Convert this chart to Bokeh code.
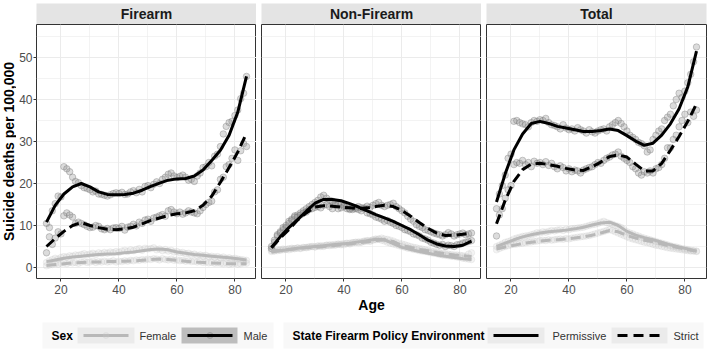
import math
from bokeh.plotting import figure
from bokeh.layouts import row, column
from bokeh.models import Range1d, FixedTicker
from bokeh.core.properties import value
from bokeh.embed import file_html
from bokeh.resources import INLINE

FONT = "Liberation Sans"

# ---------------- data ----------------
panels = ["Firearm", "Non-Firearm", "Total"]
y_title = "Suicide deaths per 100,000"
x_title = "Age"
ages = list(range(15, 85))
smooth_ages = list(range(15, 85, 3))
x_ticks = [20, 40, 60, 80]
x_minor = [30, 50, 70]
y_ticks = [0, 10, 20, 30, 40, 50]
y_minor = [5, 15, 25, 35, 45, 55]

# Firearm
fa_male_perm = [10.5, 9.5, 13.5, 15.2, 17.0, 16.8, 24.0, 23.5, 22.8, 21.5,
                20.5, 20.2, 19.5, 19.0, 18.8, 18.5, 18.0, 18.2, 17.5, 17.4,
                17.2, 17.0, 17.3, 17.6, 17.8, 17.6, 17.9, 17.4, 17.5, 18.0,
                18.3, 17.8, 18.6, 18.0, 19.3, 19.5, 19.0, 19.8, 20.4, 20.0,
                21.0, 21.5, 22.2, 22.5, 21.8, 21.4, 21.7, 22.0, 21.5, 20.8,
                21.0, 20.5, 21.8, 22.5, 23.8, 24.0, 25.0, 24.2, 26.5, 27.0,
                28.8, 31.8, 33.6, 34.5, 34.8, 36.2, 37.5, 40.2, 41.5, 45.5]
fa_male_strict = [3.5, 7.3, 5.5, 7.0, 8.5, 8.0, 12.3, 13.0, 12.5, 12.0,
                  10.5, 10.8, 10.5, 10.2, 9.8, 9.5, 9.6, 10.0, 9.8, 9.2,
                  9.0, 9.3, 9.0, 9.4, 9.5, 9.3, 9.8, 8.9, 9.6, 9.8,
                  10.3, 9.9, 10.8, 10.5, 11.3, 11.5, 11.0, 11.8, 12.0, 12.3,
                  12.6, 12.2, 13.5, 13.8, 13.2, 12.8, 13.2, 12.7, 13.0, 13.5,
                  13.2, 13.0, 12.8, 13.5, 14.3, 15.0, 15.5, 15.8, 18.0, 18.5,
                  21.0, 21.5, 24.0, 24.5, 26.0, 28.0, 25.5, 27.8, 29.5, 28.8]
fa_female_perm = [1.2, 1.6, 1.9, 2.2, 2.0, 2.4, 2.6, 2.5, 2.8, 2.7,
                  3.0, 2.9, 3.1, 3.3, 3.0, 3.2, 3.4, 3.1, 3.5, 3.3,
                  3.6, 3.4, 3.7, 3.5, 3.8, 3.6, 3.9, 4.1, 3.8, 4.2,
                  4.0, 4.3, 4.5, 4.1, 4.6, 4.4, 4.5, 4.7, 4.2, 4.4,
                  4.0, 4.3, 3.9, 4.1, 3.7, 3.8, 3.5, 3.6, 3.3, 3.4,
                  3.1, 3.2, 2.9, 3.0, 2.8, 2.9, 2.6, 2.7, 2.5, 2.6,
                  2.3, 2.5, 2.2, 2.3, 2.1, 2.2, 2.0, 1.9, 1.8, 1.7]
fa_female_strict = [0.4, 0.6, 0.7, 0.9, 0.8, 1.0, 1.1, 0.9, 1.2, 1.1,
                    1.2, 1.0, 1.3, 1.4, 1.2, 1.3, 1.5, 1.2, 1.4, 1.3,
                    1.5, 1.3, 1.4, 1.6, 1.3, 1.5, 1.4, 1.6, 1.5, 1.7,
                    1.6, 1.8, 1.7, 1.9, 1.8, 2.0, 1.9, 2.1, 2.0, 1.8,
                    2.1, 1.9, 1.8, 2.0, 1.7, 1.8, 1.6, 1.7, 1.5, 1.6,
                    1.4, 1.5, 1.3, 1.4, 1.2, 1.3, 1.1, 1.2, 1.0, 1.1,
                    1.0, 0.9, 1.1, 0.8, 0.9, 1.0, 0.8, 0.9, 1.1, 1.0]
fa_male_perm_fit = [10.8, 14.8, 17.5, 19.2, 20.0, 19.2, 18.0, 17.4, 17.3, 17.4, 17.7, 18.4,
                    19.3, 20.1, 20.8, 21.1, 21.2, 21.8, 23.2, 25.5, 27.9, 31.5, 37.0, 45.5]
fa_male_strict_fit = [5.0, 6.9, 8.6, 10.0, 10.7, 10.0, 9.5, 9.1, 9.0, 9.2, 9.6, 10.4,
                      11.2, 11.8, 12.4, 12.8, 13.0, 13.5, 14.8, 17.0, 20.3, 23.8, 27.5, 32.0]
fa_female_perm_fit = [1.4, 1.8, 2.2, 2.5, 2.7, 2.9, 3.1, 3.2, 3.3, 3.5, 3.7, 4.0,
                      4.3, 4.4, 4.2, 3.7, 3.4, 3.1, 2.9, 2.7, 2.5, 2.3, 2.1, 1.8]
fa_female_strict_fit = [0.5, 0.7, 0.9, 1.1, 1.2, 1.3, 1.3, 1.4, 1.4, 1.5, 1.6, 1.7,
                        1.9, 2.0, 1.9, 1.7, 1.5, 1.3, 1.2, 1.1, 1.0, 0.9, 0.9, 0.9]

# Non-Firearm
nf_male_perm = [5.0, 6.0, 7.5, 8.5, 9.5, 10.0, 11.0, 11.5, 12.3, 12.5,
                13.0, 13.5, 14.0, 14.5, 15.0, 15.5, 16.0, 16.8, 17.2, 16.5,
                16.0, 15.8, 15.2, 14.0, 15.0, 14.8, 14.5, 14.0, 13.8, 14.2,
                13.8, 13.5, 14.2, 13.0, 12.8, 12.5, 12.0, 11.8, 11.5, 11.0,
                11.2, 10.8, 10.5, 10.0, 9.8, 9.5, 9.0, 8.8, 8.5, 8.0,
                7.8, 7.5, 7.0, 6.8, 6.5, 6.0, 5.8, 5.5, 5.3, 5.5,
                5.0, 5.3, 5.2, 5.0, 5.4, 5.5, 5.8, 6.0, 6.2, 6.4]
nf_male_strict = [4.5, 6.5, 7.8, 8.2, 9.0, 9.5, 10.5, 11.2, 12.0, 12.0,
                  12.5, 13.0, 13.2, 13.8, 14.0, 14.3, 14.5, 14.2, 14.8, 15.0,
                  14.5, 14.0, 14.8, 15.0, 14.2, 14.5, 14.0, 13.8, 14.3, 14.0,
                  14.5, 14.2, 14.0, 14.6, 14.3, 14.8, 15.2, 15.5, 14.8, 14.5,
                  14.8, 15.0, 15.3, 14.5, 14.0, 13.5, 13.0, 12.2, 11.5, 11.0,
                  10.2, 9.8, 9.5, 9.0, 8.8, 8.5, 8.2, 8.0, 7.8, 7.5,
                  7.8, 8.3, 8.0, 7.5, 7.8, 8.0, 8.2, 7.8, 8.0, 8.2]
nf_female_perm = [3.8, 3.9, 4.0, 4.1, 4.2, 4.3, 4.2, 4.4, 4.5, 4.6,
                  4.5, 4.7, 4.8, 4.9, 5.0, 4.9, 5.1, 5.2, 5.0, 5.3,
                  5.4, 5.3, 5.5, 5.6, 5.4, 5.7, 5.8, 5.6, 5.9, 6.0,
                  6.1, 6.0, 6.3, 6.4, 6.2, 6.6, 6.8, 6.7, 6.5, 6.3,
                  6.0, 5.8, 5.6, 5.4, 5.2, 5.0, 4.8, 4.6, 4.5, 4.3,
                  4.2, 4.0, 3.9, 3.8, 3.7, 3.5, 3.4, 3.3, 3.1, 3.0,
                  2.9, 2.8, 2.7, 2.6, 2.5, 2.4, 2.2, 2.1, 2.0, 1.9]
nf_female_strict = [4.1, 4.0, 4.3, 4.2, 4.4, 4.3, 4.5, 4.6, 4.5, 4.7,
                    4.6, 4.8, 4.7, 4.9, 5.0, 4.9, 5.1, 5.0, 5.2, 5.3,
                    5.2, 5.4, 5.3, 5.5, 5.6, 5.4, 5.7, 5.8, 5.9, 6.0,
                    5.9, 6.1, 6.2, 6.3, 6.4, 6.5, 6.6, 6.8, 7.0, 6.8,
                    6.7, 6.5, 6.3, 6.0, 5.8, 5.6, 5.4, 5.2, 5.0, 4.8,
                    4.7, 4.5, 4.4, 4.2, 4.1, 3.9, 3.8, 3.7, 3.5, 3.4,
                    3.3, 3.2, 3.1, 3.0, 3.0, 2.9, 2.8, 2.7, 3.2, 3.5]
nf_male_perm_fit = [4.8, 7.3, 9.5, 11.4, 13.4, 15.3, 16.2, 16.2, 15.9, 15.2, 14.4, 13.5,
                    12.6, 11.8, 11.0, 10.0, 9.0, 7.8, 6.5, 5.6, 5.1, 5.0, 5.3, 6.3]
nf_male_strict_fit = [4.7, 7.0, 9.0, 11.3, 13.0, 14.4, 14.7, 14.6, 14.4, 14.2, 14.0, 14.2,
                      14.5, 14.8, 14.5, 13.6, 12.2, 10.7, 9.3, 8.2, 7.6, 7.7, 7.9, 8.2]
nf_female_perm_fit = [3.7, 4.0, 4.3, 4.6, 4.8, 5.0, 5.2, 5.4, 5.6, 5.8, 6.1, 6.4,
                      6.7, 6.6, 5.7, 4.8, 4.3, 3.8, 3.4, 3.0, 2.7, 2.4, 2.1, 1.9]
nf_female_strict_fit = [4.0, 4.1, 4.3, 4.5, 4.7, 4.8, 5.0, 5.2, 5.4, 5.6, 5.9, 6.1,
                        6.4, 6.6, 6.2, 5.2, 4.8, 4.3, 4.0, 3.6, 3.3, 3.0, 2.8, 2.6]

# Total
tot_male_perm = [14.0, 17.5, 19.5, 22.0, 26.0, 27.0, 34.8, 35.0, 34.5, 34.2,
                 34.0, 33.5, 34.5, 35.0, 34.8, 35.2, 35.0, 35.5, 34.5, 34.0,
                 33.8, 33.5, 33.0, 34.0, 33.2, 32.8, 33.0, 32.5, 33.3, 32.8,
                 32.5, 32.0, 32.8, 32.3, 32.0, 32.5, 32.8, 33.0, 32.5, 33.5,
                 34.0, 34.5, 35.0, 34.3, 33.5, 32.5, 31.5, 31.0, 30.5, 29.8,
                 29.5, 29.0, 27.5, 28.0, 30.5, 31.5, 32.5, 33.0, 35.0, 35.8,
                 36.5, 38.5, 40.0, 41.5, 40.5, 42.0, 44.0, 46.0, 49.0, 52.5]
tot_male_strict = [7.5, 12.5, 14.0, 16.5, 18.5, 19.5, 24.5, 25.0, 24.8, 25.5,
                   24.5, 25.0, 24.0, 25.3, 24.8, 25.0, 24.5, 25.2, 24.3, 24.8,
                   24.0, 23.5, 24.2, 23.8, 23.0, 23.5, 22.8, 23.2, 23.0, 22.5,
                   23.2, 23.5, 23.8, 24.0, 24.5, 25.0, 24.8, 25.5, 26.0, 26.3,
                   26.8, 27.0, 27.5, 26.5, 26.0, 25.5, 25.0, 24.0, 23.5, 22.5,
                   22.0, 22.8, 22.5, 23.0, 22.5, 23.5, 23.8, 24.5, 26.0, 28.5,
                   28.5, 30.5, 31.5, 33.5, 35.0, 36.5, 34.5, 37.0, 36.0, 37.5]
tot_female_perm = [5.0, 5.3, 5.6, 6.0, 6.2, 6.4, 6.8, 7.0, 7.2, 7.4,
                   7.5, 7.6, 7.8, 8.0, 8.3, 8.2, 8.5, 8.4, 8.6, 8.8,
                   8.7, 8.9, 9.0, 8.8, 9.1, 9.0, 9.2, 9.3, 9.4, 9.5,
                   9.6, 9.8, 10.0, 10.2, 10.3, 10.5, 10.8, 11.0, 10.7, 10.5,
                   10.3, 10.0, 9.8, 9.5, 9.0, 8.5, 8.2, 8.0, 7.7, 7.5,
                   7.2, 7.0, 6.8, 6.6, 6.4, 6.2, 6.0, 5.8, 5.6, 5.4,
                   5.2, 5.0, 4.9, 4.7, 4.5, 4.4, 4.3, 4.1, 4.0, 3.9]
tot_female_strict = [4.2, 4.5, 4.8, 5.0, 5.2, 5.4, 5.5, 5.6, 5.7, 5.8,
                     5.9, 6.0, 6.1, 6.2, 6.3, 6.4, 6.5, 6.4, 6.6, 6.5,
                     6.6, 6.7, 6.8, 6.7, 6.9, 6.8, 7.0, 7.1, 7.2, 7.3,
                     7.4, 7.5, 7.6, 7.8, 8.0, 8.2, 8.4, 8.6, 8.8, 9.0,
                     8.8, 8.5, 8.2, 7.9, 7.6, 7.3, 7.0, 6.8, 6.6, 6.4,
                     6.2, 6.0, 5.9, 5.7, 5.5, 5.3, 5.2, 5.0, 4.9, 4.7,
                     4.6, 4.5, 4.4, 4.3, 4.2, 4.1, 4.0, 3.9, 3.9, 3.8]
tot_male_perm_fit = [15.6, 22.3, 28.0, 31.8, 34.3, 34.8, 34.3, 33.6, 33.2, 32.8, 32.4, 32.4,
                     32.6, 33.0, 32.6, 31.4, 30.1, 29.1, 29.6, 31.5, 34.2, 37.8, 43.0, 51.5]
tot_male_strict_fit = [10.4, 16.0, 20.5, 23.3, 24.6, 24.8, 24.5, 24.1, 23.6, 23.2, 23.1, 24.0,
                       25.1, 26.4, 26.8, 26.3, 24.6, 23.0, 23.0, 24.8, 27.9, 31.2, 34.8, 39.0]
tot_female_perm_fit = [5.0, 5.8, 6.6, 7.3, 7.8, 8.2, 8.5, 8.7, 8.9, 9.2, 9.6, 10.1,
                       10.6, 10.8, 10.0, 8.6, 7.7, 7.1, 6.6, 6.0, 5.4, 4.9, 4.4, 3.9]
tot_female_strict_fit = [4.4, 4.9, 5.3, 5.7, 6.0, 6.3, 6.5, 6.6, 6.8, 7.0, 7.3, 7.7,
                         8.2, 8.8, 8.5, 7.6, 7.0, 6.5, 6.1, 5.6, 5.1, 4.7, 4.2, 3.9]

series_by_panel = {
    "Firearm": [("Female", "Permissive", fa_female_perm, fa_female_perm_fit),
                ("Female", "Strict", fa_female_strict, fa_female_strict_fit),
                ("Male", "Permissive", fa_male_perm, fa_male_perm_fit),
                ("Male", "Strict", fa_male_strict, fa_male_strict_fit)],
    "Non-Firearm": [("Female", "Permissive", nf_female_perm, nf_female_perm_fit),
                    ("Female", "Strict", nf_female_strict, nf_female_strict_fit),
                    ("Male", "Permissive", nf_male_perm, nf_male_perm_fit),
                    ("Male", "Strict", nf_male_strict, nf_male_strict_fit)],
    "Total": [("Female", "Permissive", tot_female_perm, tot_female_perm_fit),
              ("Female", "Strict", tot_female_strict, tot_female_strict_fit),
              ("Male", "Permissive", tot_male_perm, tot_male_perm_fit),
              ("Male", "Strict", tot_male_strict, tot_male_strict_fit)],
}

# ---------------- styles ----------------
X0, X1 = 11.55, 87.45
Y0, Y1 = -2.62, 57.86
point_style = {
    "Female": dict(fill_color="#cfcfcf", fill_alpha=0.22, line_color="#c4c4c4", line_alpha=0.22),
    "Male": dict(fill_color="#8a8a8a", fill_alpha=0.3, line_color="#707070", line_alpha=0.35),
}
line_color = {"Female": "#b8b8b8", "Male": "#000000"}
dash = {"Permissive": "solid", "Strict": "10 5"}
GRID = "#ebebeb"
YT_W = 16     # width of the y-title column
AX_W = 20     # room for y ticks + tick labels

# y-axis title column
ytf = figure(width=YT_W, height=318, x_range=Range1d(0, YT_W), y_range=Range1d(318, 0),
             toolbar_location=None, output_backend="svg",
             x_axis_location=None, y_axis_location=None, min_border=0)
ytf.grid.visible = False
ytf.outline_line_color = None
ytf.text(x=[YT_W / 2], y=[151], text=[y_title], angle=math.pi / 2, text_align="center",
         text_baseline="middle", text_font=value(FONT), text_font_style="bold",
         text_font_size="14px", text_color="#000000")

plots = [ytf]
for i, name in enumerate(panels):
    first = i == 0
    last = i == len(panels) - 1
    lb = AX_W if first else 5
    rb = 3 if last else 0
    w = 220 + lb + rb
    strip = figure(width=w, height=24, x_range=Range1d(X0, X1), y_range=Range1d(0, 1),
                   toolbar_location=None, output_backend="svg",
                   x_axis_location=None, y_axis_location=None,
                   min_border_left=lb, min_border_right=rb,
                   min_border_top=3, min_border_bottom=0)
    strip.grid.visible = False
    strip.outline_line_color = None
    strip.background_fill_color = "#e4e4e4"
    strip.text(x=[(X0 + X1) / 2], y=[0.5], text=[name], text_align="center",
               text_baseline="middle", text_font=value(FONT), text_font_style="bold",
               text_font_size="14px", text_color="#1a1a1a")

    p = figure(width=w, height=294, x_range=Range1d(X0, X1), y_range=Range1d(Y0, Y1),
               toolbar_location=None, output_backend="svg",
               y_axis_location="left" if first else None,
               min_border_left=lb, min_border_right=rb,
               min_border_top=0, min_border_bottom=40)
    p.outline_line_color = "#333333"
    p.outline_line_width = 1
    p.background_fill_color = "white"
    p.xgrid.ticker = FixedTicker(ticks=x_ticks, minor_ticks=x_minor)
    p.ygrid.ticker = FixedTicker(ticks=y_ticks, minor_ticks=y_minor)
    p.grid.grid_line_color = GRID
    p.grid.grid_line_width = 1
    p.grid.minor_grid_line_color = GRID
    p.grid.minor_grid_line_width = 0.6

    p.xaxis.ticker = FixedTicker(ticks=x_ticks, minor_ticks=x_minor)
    axes = [p.xaxis]
    if first:
        p.yaxis.ticker = FixedTicker(ticks=y_ticks, minor_ticks=y_minor)
        axes.append(p.yaxis)
    if name == "Non-Firearm":
        p.xaxis.axis_label = x_title
    for ax in axes:
        ax.axis_line_color = None
        ax.major_tick_line_color = "#333333"
        ax.major_tick_out = 3
        ax.major_tick_in = 0
        ax.minor_tick_line_color = None
        ax.major_label_text_font = FONT
        ax.major_label_text_font_size = "12px"
        ax.major_label_text_color = "#4d4d4d"
        ax.major_label_standoff = 2
        ax.axis_label_text_font = FONT
        ax.axis_label_text_font_size = "14px"
        ax.axis_label_text_font_style = "bold"
        ax.axis_label_text_color = "#000000"
        ax.axis_label_standoff = 0
    if first:
        p.yaxis.major_label_standoff = 0

    series = series_by_panel[name]
    for sex, pol, pts, fit in series:
        p.scatter(ages, pts, size=6.5, marker="circle", **point_style[sex])
    for sex, pol, pts, fit in series:
        p.line(smooth_ages, fit, line_color=line_color[sex], line_width=3,
               line_dash=dash[pol], line_cap="butt", line_join="round")
    plots.append(column(strip, p, spacing=0))

# ---------------- legend (drawn in a pixel-space strip) ----------------
leg = figure(width=709, height=33, x_range=Range1d(0, 709), y_range=Range1d(351, 318),
             toolbar_location=None, output_backend="svg",
             x_axis_location=None, y_axis_location=None, min_border=0)
leg.grid.visible = False
leg.outline_line_color = None
leg.quad(left=[42, 283], right=[273, 703], top=[322, 322], bottom=[348, 348],
         fill_color="#f8f8f8", line_color=None)
leg.quad(left=[77, 181, 487, 611], right=[134, 237, 544, 667], top=327, bottom=343,
         fill_color=["#ebebeb", "#bdbdbd", "#ebebeb", "#ebebeb"], line_color=None)
leg.line([83, 128], [335, 335], line_color=line_color["Female"], line_width=3)
leg.scatter([105.5], [335], size=6, marker="circle", **point_style["Female"])
leg.scatter([209.5], [335], size=6, marker="circle", **point_style["Male"])
leg.line([187, 232], [335, 335], line_color=line_color["Male"], line_width=3)
leg.line([493, 538], [335, 335], line_color="#000000", line_width=3)
leg.line([617, 662], [335, 335], line_color="#000000", line_width=3, line_dash="10 6")
leg.text(x=[51, 292], y=[335, 335], text=["Sex", "State Firearm Policy Environment"],
         text_baseline="middle", text_align="left", text_font=value(FONT),
         text_font_style="bold", text_font_size="12px", text_color="#000000")
leg.text(x=[139, 243, 552, 673], y=[335] * 4, text=["Female", "Male", "Permissive", "Strict"],
         text_baseline="middle", text_align="left", text_font=value(FONT),
         text_font_size="11px", text_color="#333333")

layout = column(row(*plots, spacing=0), leg, spacing=0)
open("out.html", "w").write(file_html(layout, INLINE))
